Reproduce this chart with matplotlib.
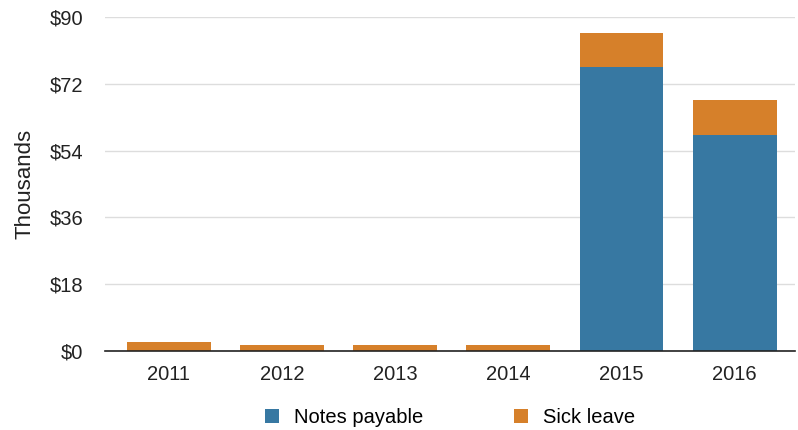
import matplotlib.pyplot as plt
import numpy as np

plt.rcParams['font.family'] = ['Liberation Sans', 'DejaVu Sans']

years = ["2011", "2012", "2013", "2014", "2015", "2016"]
notes_payable = [0, 0, 0, 0, 76.5, 58.2]
sick_leave = [2.4, 1.6, 1.6, 1.6, 9.2, 9.4]
y_ticks = [0, 18, 36, 54, 72, 90]

blue = "#3778a2"
orange = "#d6802a"

fig = plt.figure(figsize=(7.98, 4.30), dpi=100)
ax = fig.add_axes([0.132, 0.184, 0.864, 0.776])

x = np.arange(len(years))
ax.bar(x, notes_payable, width=0.74, color=blue, label="Notes payable", zorder=3)
ax.bar(x, sick_leave, width=0.74, bottom=notes_payable, color=orange,
       label="Sick leave", zorder=3)

ax.set_xlim(-0.56, 5.53)
ax.set_ylim(0, 90)
ax.set_yticks(y_ticks)
ax.set_yticklabels(["$" + str(v) for v in y_ticks])
ax.set_xticks(x)
ax.set_xticklabels(years)
ax.tick_params(axis="both", length=0, labelsize=14.5, colors="#222222")
ax.tick_params(axis="y", pad=16)
ax.tick_params(axis="x", pad=10)
ax.yaxis.grid(True, color="#dddddd", linewidth=1, zorder=0)

for s in ["top", "right", "left"]:
    ax.spines[s].set_visible(False)
ax.spines["bottom"].set_color("#222222")
ax.spines["bottom"].set_linewidth(1.2)
ax.spines["bottom"].set_zorder(4)

ax.set_ylabel("Thousands", fontsize=16, color="#222222", labelpad=10)

ax.legend(loc="center", ncol=2, frameon=False, fontsize=14.5,
          bbox_to_anchor=(0.5, -0.2), handlelength=0.7, handleheight=0.7,
          columnspacing=4.5, handletextpad=0.75)

fig.savefig("out.png", dpi=100)
